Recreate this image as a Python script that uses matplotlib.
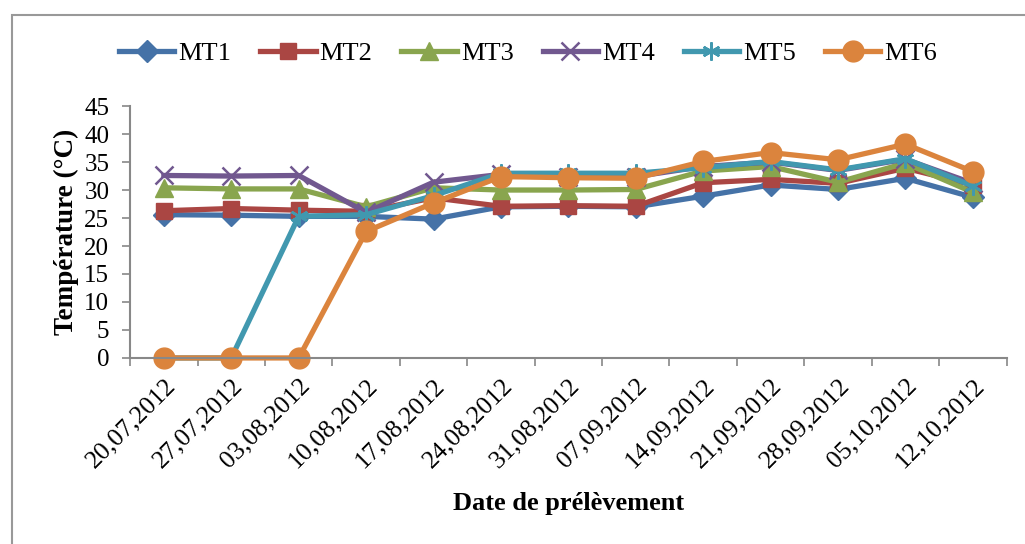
import matplotlib.pyplot as plt
from matplotlib.patches import Rectangle

# Sampling dates and temperatures (°C)
dates = ['20,07,2012', '27,07,2012', '03,08,2012', '10,08,2012', '17,08,2012',
         '24,08,2012', '31,08,2012', '07,09,2012', '14,09,2012', '21,09,2012',
         '28,09,2012', '05,10,2012', '12,10,2012']

mt1 = [25.6, 25.5, 25.3, 25.3, 24.8, 27.0, 27.1, 27.0, 28.9, 30.9, 30.1, 32.1, 28.7]
mt2 = [26.3, 26.7, 26.4, 26.2, 28.6, 27.1, 27.2, 27.1, 31.3, 31.9, 31.2, 33.9, 30.9]
mt3 = [30.4, 30.2, 30.2, 27.0, 30.4, 30.0, 30.0, 30.1, 33.4, 34.2, 31.4, 34.8, 29.6]
mt4 = [32.6, 32.5, 32.6, 26.0, 31.4, 32.8, 32.4, 32.4, 34.2, 35.0, 33.5, 35.5, 31.2]
mt5 = [0.0, 0.0, 25.3, 25.6, 29.0, 33.0, 33.0, 33.0, 34.0, 35.1, 33.6, 35.6, 30.7]
mt6 = [0.0, 0.0, 0.0, 22.6, 27.7, 32.4, 32.2, 32.1, 35.1, 36.7, 35.4, 38.2, 33.3]

series = [mt1, mt2, mt3, mt4, mt5, mt6]
names = ['MT1', 'MT2', 'MT3', 'MT4', 'MT5', 'MT6']
colors = ['#4572A7', '#AA4643', '#89A54E', '#71588F', '#4198AF', '#DB843D']
markers = ['D', 's', '^', 'x', (6, 2, 0), 'o']
msizes = [11, 12, 13, 13, 13, 15]

plt.rcParams['font.family'] = 'Liberation Serif'

fig = plt.figure(figsize=(10.25, 5.44), dpi=100)
ax = fig.add_axes([0.127, 0.342, 0.855, 0.463])

x = list(range(len(dates)))
for vals, name, c, m, ms in zip(series, names, colors, markers, msizes):
    ax.plot(x, vals, color=c, lw=3.8, marker=m, markersize=ms,
            markeredgewidth=1.8 if m in ('x', (6, 2, 0)) else 1,
            markerfacecolor=c, markeredgecolor=c, label=name, clip_on=False)

ax.set_xlim(-0.5, len(dates) - 0.5)
ax.set_ylim(0, 45)
ax.set_yticks(range(0, 46, 5))
ax.set_xticks([i - 0.5 for i in range(len(dates) + 1)], minor=False)
ax.set_xticklabels([])
ax.set_xticks(x, minor=True)
ax.set_xticklabels(dates, minor=True, rotation=45, ha='right', va='top',
                   rotation_mode='anchor', fontsize=18.5)
ax.tick_params(axis='x', which='minor', length=0, pad=12)
ax.tick_params(axis='x', which='major', length=6, color='#888888', width=1.2)
ax.tick_params(axis='y', length=6, color='#888888', width=1.2, labelsize=18,
               pad=9)

for s in ['top', 'right']:
    ax.spines[s].set_visible(False)
for s in ['left', 'bottom']:
    ax.spines[s].set_color('#888888')
    ax.spines[s].set_linewidth(1.5)

ax.set_ylabel('Température (°C)', fontsize=19.5, fontweight='bold', labelpad=4)
ax.set_xlabel('Date de prélèvement', fontsize=19, fontweight='bold', labelpad=14)

fig.legend(loc='center', bbox_to_anchor=(0.515, 0.902), ncol=6, frameon=False,
           fontsize=19, handlelength=2.1, handletextpad=0.15, columnspacing=1.1)

# grey frame around the chart area
fig.patches.append(Rectangle((12 / 1025, -0.01), 1.0, 1 - 15 / 544 + 0.01,
                             transform=fig.transFigure, fill=False,
                             edgecolor='#999999', lw=1.5))

fig.savefig('out.png', dpi=100)
